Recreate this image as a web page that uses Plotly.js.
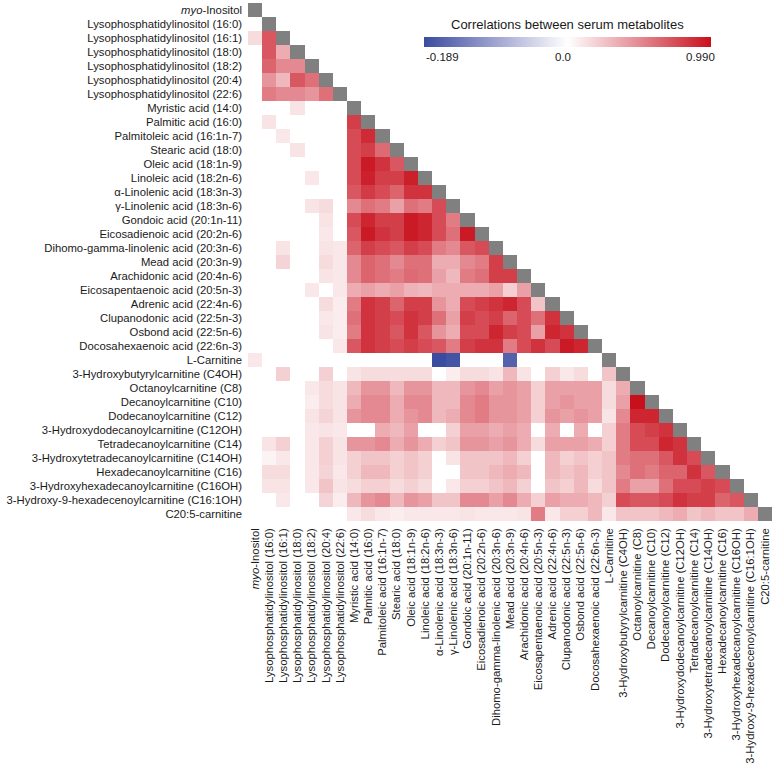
<!DOCTYPE html>
<html>
<head>
<meta charset="utf-8">
<script src="https://cdn.plot.ly/plotly-3.0.1.min.js"></script>
<style>html,body{margin:0;padding:0;background:#fff;}#chart{width:773px;height:768px;}</style>
</head>
<body>
<div id="chart"></div>
<script>
// Metabolite labels (rows top->bottom, columns left->right)
const labels = [
  "<i>myo</i>-Inositol",
  "Lysophosphatidylinositol (16:0)",
  "Lysophosphatidylinositol (16:1)",
  "Lysophosphatidylinositol (18:0)",
  "Lysophosphatidylinositol (18:2)",
  "Lysophosphatidylinositol (20:4)",
  "Lysophosphatidylinositol (22:6)",
  "Myristic acid (14:0)",
  "Palmitic acid (16:0)",
  "Palmitoleic acid (16:1n-7)",
  "Stearic acid (18:0)",
  "Oleic acid (18:1n-9)",
  "Linoleic acid (18:2n-6)",
  "α-Linolenic acid (18:3n-3)",
  "γ-Linolenic acid (18:3n-6)",
  "Gondoic acid (20:1n-11)",
  "Eicosadienoic acid (20:2n-6)",
  "Dihomo-gamma-linolenic acid (20:3n-6)",
  "Mead acid (20:3n-9)",
  "Arachidonic acid (20:4n-6)",
  "Eicosapentaenoic acid (20:5n-3)",
  "Adrenic acid (22:4n-6)",
  "Clupanodonic acid (22:5n-3)",
  "Osbond acid (22:5n-6)",
  "Docosahexaenoic acid (22:6n-3)",
  "L-Carnitine",
  "3-Hydroxybutyrylcarnitine (C4OH)",
  "Octanoylcarnitine (C8)",
  "Decanoylcarnitine (C10)",
  "Dodecanoylcarnitine (C12)",
  "3-Hydroxydodecanoylcarnitine (C12OH)",
  "Tetradecanoylcarnitine (C14)",
  "3-Hydroxytetradecanoylcarnitine (C14OH)",
  "Hexadecanoylcarnitine (C16)",
  "3-Hydroxyhexadecanoylcarnitine (C16OH)",
  "3-Hydroxy-9-hexadecenoylcarnitine (C16:1OH)",
  "C20:5-carnitine"
];

// Lower-triangle correlations (row i holds columns 0..i-1); 0 = not significant (white)
const lowerTriangle = [
  [],
  [0],
  [0.15,0.7],
  [0,0.7,0.35],
  [0,0.65,0.5,0.5],
  [0,0.45,0.3,0.7,0.6],
  [0,0.55,0.5,0.5,0.45,0.6],
  [0,0,0,0.12,0,0,0],
  [0,0.12,0,0,0,0,0,0.8],
  [0,0,0.1,0,0,0,0,0.75,0.88],
  [0,0,0,0.12,0,0,0,0.75,0.8,0.62],
  [0,0,0,0,0,0,0,0.75,0.95,0.85,0.7],
  [0,0,0,0,0.1,0,0,0.75,0.92,0.8,0.8,0.93],
  [0,0,0,0,0,0,0,0.7,0.82,0.75,0.65,0.85,0.85],
  [0,0,0,0,0.12,0.15,0,0.5,0.6,0.55,0.4,0.6,0.55,0.75],
  [0,0,0,0,0,0.12,0,0.75,0.9,0.8,0.8,0.95,0.9,0.75,0.55],
  [0,0,0,0,0,0.1,0,0.7,0.95,0.85,0.8,0.95,0.9,0.75,0.6,0.95],
  [0,0,0.12,0,0,0.12,0.1,0.65,0.8,0.75,0.7,0.8,0.75,0.55,0.5,0.7,0.75],
  [0,0,0.18,0,0,0.15,0.1,0.5,0.65,0.6,0.5,0.6,0.6,0.35,0.35,0.5,0.55,0.8],
  [0,0,0,0,0,0.12,0.1,0.5,0.65,0.6,0.55,0.62,0.6,0.4,0.3,0.55,0.6,0.8,0.8],
  [0,0,0,0,0.1,0,0.1,0.35,0.4,0.35,0.4,0.32,0.3,0.35,0.35,0.35,0.35,0.4,0.2,0.4],
  [0,0,0,0,0,0.15,0.08,0.55,0.85,0.8,0.65,0.8,0.8,0.45,0.35,0.75,0.8,0.85,0.9,0.75,0.25],
  [0,0,0,0,0,0.1,0.08,0.6,0.85,0.8,0.75,0.85,0.8,0.6,0.4,0.8,0.75,0.8,0.65,0.75,0.6,0.85],
  [0,0,0,0,0,0.12,0.08,0.55,0.85,0.8,0.7,0.85,0.7,0.45,0.35,0.75,0.75,0.9,0.8,0.75,0.4,0.9,0.85],
  [0,0,0,0,0,0,0.1,0.7,0.85,0.8,0.75,0.8,0.75,0.7,0.55,0.8,0.85,0.85,0.55,0.75,0.85,0.75,0.95,0.9],
  [0.1,0,0,0,0,0,0,0,0,0,0,0,0,-0.189,-0.18,0,0,0,-0.165,0,0,0,0,0,0],
  [0,0,0.2,0,0,0.2,0,0.12,0.15,0.15,0.15,0.15,0.15,0,0.08,0.15,0.15,0.12,0.3,0.12,0,0.2,0.1,0.15,0,0.25],
  [0,0,0,0,0.1,0.15,0.12,0.3,0.45,0.45,0.3,0.45,0.45,0.3,0.3,0.45,0.5,0.4,0.45,0.4,0.2,0.4,0.4,0.4,0.4,0.15,0.35],
  [0,0,0,0,0.08,0.15,0.12,0.35,0.5,0.5,0.35,0.5,0.5,0.3,0.3,0.5,0.55,0.45,0.45,0.4,0.2,0.4,0.45,0.4,0.4,0.15,0.4,0.99],
  [0,0,0,0,0.12,0.18,0.12,0.45,0.5,0.5,0.35,0.45,0.5,0.3,0.35,0.5,0.55,0.45,0.45,0.4,0.2,0.45,0.4,0.45,0.4,0.12,0.5,0.9,0.9],
  [0,0,0,0,0.1,0.12,0.1,0,0,0.35,0.3,0.4,0,0,0.2,0.4,0.4,0.35,0.4,0.35,0,0.35,0,0.35,0,0.2,0.55,0.75,0.8,0.85],
  [0,0.12,0.2,0,0.1,0.2,0.12,0.45,0.45,0.5,0.35,0.45,0.35,0.2,0.25,0.45,0.45,0.4,0.45,0.35,0.15,0.4,0.4,0.4,0.35,0.2,0.55,0.75,0.75,0.9,0.85],
  [0,0.05,0.1,0,0.1,0.2,0.12,0.2,0.25,0.25,0.2,0.25,0.2,0,0.12,0.25,0.25,0.25,0.3,0.2,0,0.3,0.2,0.25,0.2,0.25,0.55,0.6,0.6,0.7,0.85,0.75],
  [0,0.15,0.15,0,0.1,0.18,0.1,0.2,0.3,0.3,0.2,0.25,0.2,0,0,0.25,0.25,0.3,0.35,0.3,0,0.3,0.25,0.3,0.2,0.25,0.5,0.6,0.55,0.65,0.65,0.85,0.7],
  [0,0.12,0.12,0,0.1,0.25,0.12,0.15,0.2,0.2,0.15,0.2,0.15,0,0.1,0.2,0.2,0.25,0.3,0.2,0,0.25,0.2,0.3,0.15,0.25,0.55,0.4,0.4,0.6,0.75,0.75,0.8,0.75],
  [0,0,0.1,0,0,0.18,0.08,0.3,0.45,0.5,0.3,0.45,0.4,0.25,0.25,0.5,0.5,0.4,0.5,0.35,0.2,0.4,0.35,0.35,0.3,0.2,0.75,0.7,0.7,0.75,0.85,0.8,0.8,0.65,0.7],
  [0,0,0,0,0,0,0,0.1,0.15,0.1,0.08,0.1,0.1,0.1,0.1,0.12,0.1,0.1,0.1,0.12,0.55,0.1,0.2,0.2,0.3,0.1,0.25,0.25,0.25,0.3,0.35,0.25,0.3,0.25,0.25,0.35]
];

// Colour bar: minimum, midpoint and maximum correlation
const colorbarTicks = [-0.189, 0.0, 0.990];
const colorbarTickText = ["-0.189", "0.0", "0.990"];
const colorbarTitle = "Correlations between serum metabolites";
const zMin = colorbarTicks[0], zMax = colorbarTicks[2];

const n = labels.length;
const idx = labels.map((_, i) => i);
// Diverging scale centred on 0: negatives scaled by |zMin|, positives by zMax
const toScale = v => v < 0 ? v / -zMin : v / zMax;
const zLower = [], zDiag = [], zText = [];
for (let i = 0; i < n; i++) {
  const row = [], drow = [], trow = [];
  for (let j = 0; j < n; j++) {
    const v = j < i ? lowerTriangle[i][j] : null;
    row.push(v === null ? null : toScale(v));
    trow.push(v);
    drow.push(j === i ? 1 : null);
  }
  zLower.push(row); zDiag.push(drow); zText.push(trow);
}

const font = "Liberation Sans, Arial, Helvetica, sans-serif";
const txtColor = "#1a1a1a";
const traces = [
  {
    type: "heatmap", x: idx, y: idx, z: zLower, text: zText,
    zmin: -1, zmax: 1, hoverongaps: false,
    colorscale: [[0, "rgb(58,76,160)"], [0.25, "rgb(160,164,208)"], [0.5, "rgb(255,255,255)"], [0.75, "rgb(228,138,146)"], [1, "rgb(200,16,28)"]],
    colorbar: {
      orientation: "h", x: 0.6097, xanchor: "center", y: 0.924, yanchor: "middle",
      len: 287, lenmode: "pixels", thickness: 10, outlinewidth: 0, xpad: 0, ypad: 0,
      showticklabels: false, ticks: ""
    }
  },
  {
    type: "heatmap", x: idx, y: idx, z: zDiag, showscale: false, hoverongaps: false,
    zmin: 0, zmax: 1, colorscale: [[0, "#808080"], [1, "#808080"]]
  }
];

// Colour-bar tick labels and title placed around the bar (paper coordinates)
const cbLabelX = [0.3359, 0.601, 0.895];
const cbAnchor = ["left", "center", "right"];
const annotations = colorbarTickText.map((t, k) => ({
  text: t, xref: "paper", yref: "paper", x: cbLabelX[k], y: 0.896,
  xanchor: cbAnchor[k], yanchor: "middle", showarrow: false,
  font: {size: 11.5, family: font, color: txtColor}
}));
annotations.push({
  text: colorbarTitle, xref: "paper", yref: "paper", x: 0.6097, y: 0.959,
  xanchor: "center", yanchor: "middle", showarrow: false,
  font: {size: 13, family: font, color: txtColor}
});

const axisCommon = {
  tickvals: idx, ticktext: labels, showgrid: false, zeroline: false, showline: false,
  ticks: "", tickfont: {size: 11.3, family: font, color: txtColor}
};
const layout = {
  width: 773, height: 768,
  margin: {l: 248, r: 1, t: 3, b: 247, pad: 0},
  paper_bgcolor: "#fff", plot_bgcolor: "#fff",
  xaxis: Object.assign({}, axisCommon, {range: [-0.5, n - 0.5], tickangle: -90, ticklabelstandoff: 4}),
  yaxis: Object.assign({}, axisCommon, {range: [n - 0.5, -0.5], ticklabelstandoff: 5}),
  annotations: annotations,
  font: {family: font}
};
Plotly.newPlot("chart", traces, layout, {displayModeBar: false, staticPlot: true});
</script>
</body>
</html>
